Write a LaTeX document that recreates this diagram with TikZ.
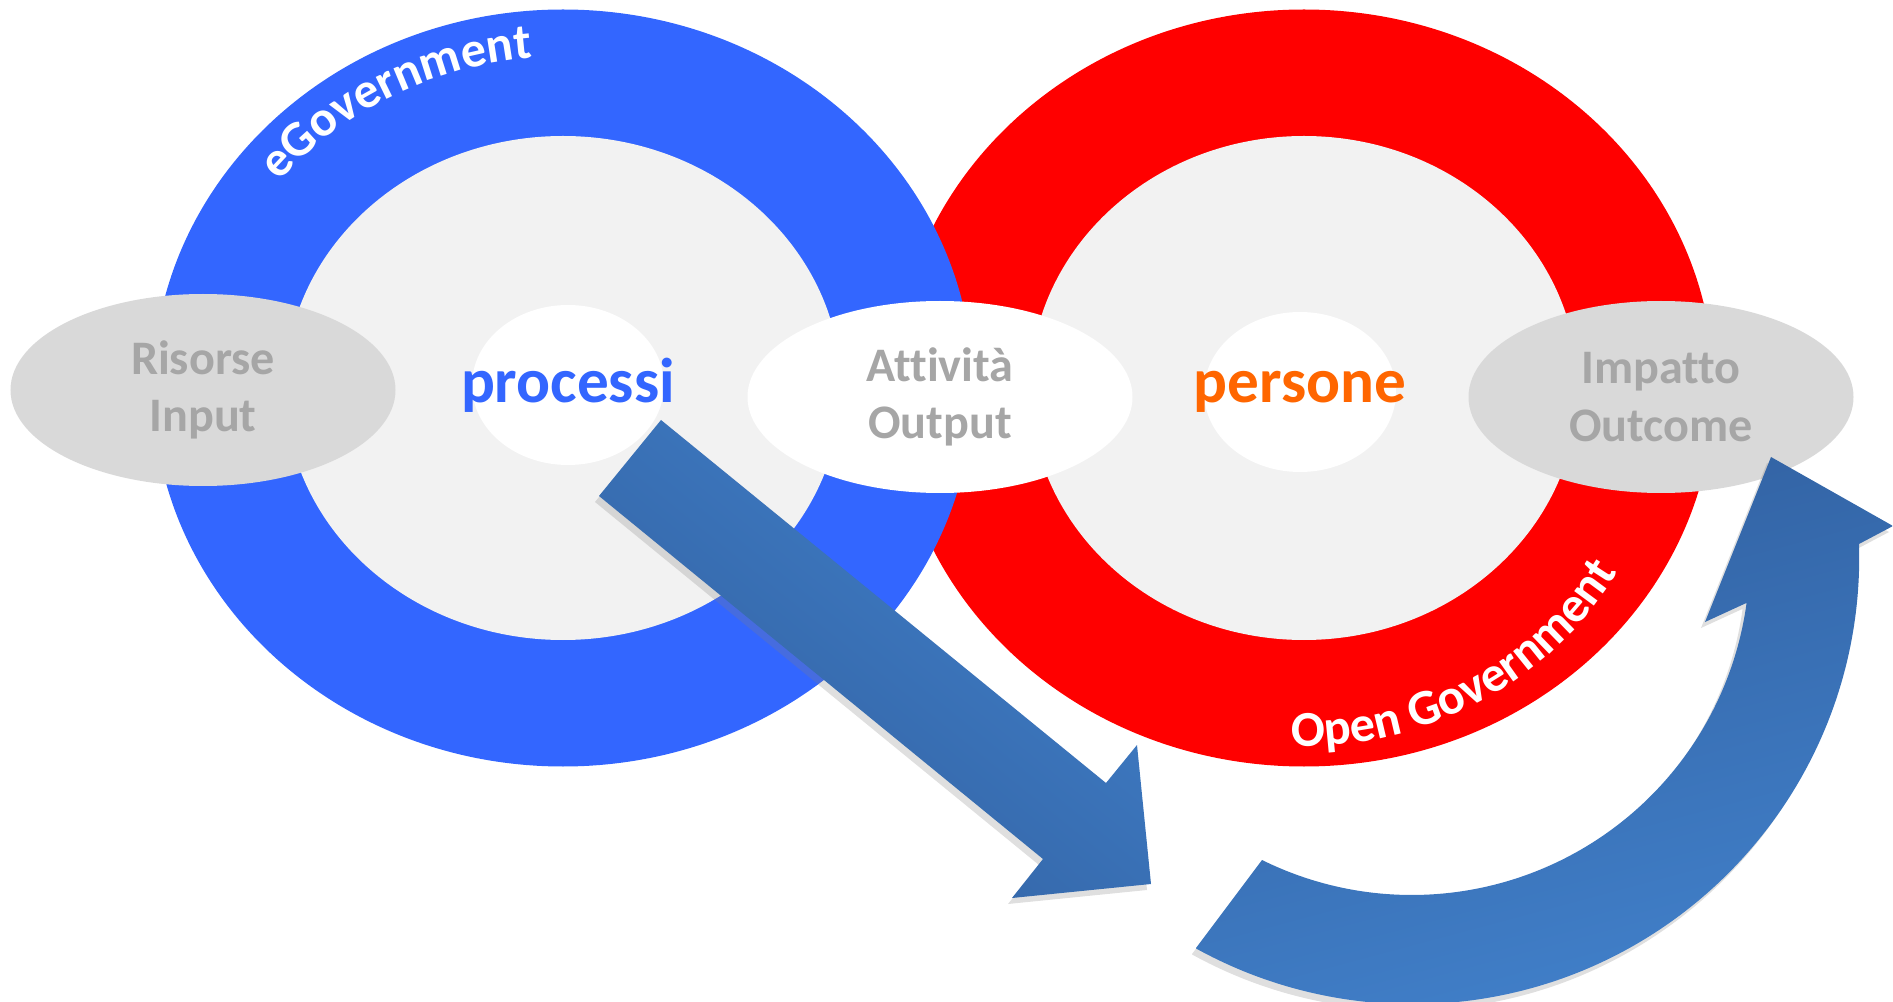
\documentclass[tikz,border=0pt]{standalone}
\usepackage{fontspec}
\setmainfont{Carlito}[Ligatures=NoCommon]
\usetikzlibrary{shapes.geometric,decorations.text,shadows}

\definecolor{egovblue}{RGB}{51,102,255}
\definecolor{opengovred}{RGB}{255,0,0}
\definecolor{ringfill}{RGB}{242,242,242}
\definecolor{stagegrey}{RGB}{217,217,217}
\definecolor{labelgrey}{RGB}{166,166,166}
\definecolor{peopleorange}{RGB}{255,102,0}
\definecolor{arrowlight}{RGB}{65,128,202}
\definecolor{arrowdark}{RGB}{49,96,160}

\tikzset{
  stage/.style={ellipse, minimum width=3.85cm, minimum height=1.92cm, inner sep=0pt,
    align=center, text=labelgrey, font=\fontsize{13.7}{16.3}\selectfont\bfseries},
  core/.style={ellipse, fill=white, minimum width=1.92cm, minimum height=1.6cm, inner sep=0pt},
  corefont/.style={font=\fontsize{18}{20}\selectfont\bfseries},
  blockarrow/.style={drop shadow={opacity=0.25, shadow xshift=-0.04cm, shadow yshift=-0.06cm}},
}

\begin{document}
\begin{tikzpicture}
    \useasboundingbox (0,0) rectangle (18.93,10.01);

    % Rings (red first, the blue one lies over it)
    \fill[opengovred] (13.04,6.13) ellipse [x radius=4.10, y radius=3.785];
    \fill[ringfill] (13.04,6.13) ellipse [x radius=2.74, y radius=2.52];
    \fill[egovblue] (5.63,6.13) ellipse [x radius=4.10, y radius=3.785];
    \fill[ringfill] (5.63,6.13) ellipse [x radius=2.78, y radius=2.52];

    % Ring labels
    \path[decorate, decoration={text along path, text align=left,
        text={|\fontsize{14.3}{16}\selectfont\bfseries\color{white}|eGovernment}}]
      (5.63,6.13) ++(141.5:3.62 and 3.31)
      arc [start angle=141.5, end angle=60, x radius=3.62, y radius=3.31];
    \path[decorate, decoration={text along path, text align=left,
        text={|\fontsize{14.3}{16}\selectfont\bfseries\color{white}|Open Government}}]
      (13.04,6.13) ++(268:3.66 and 3.58)
      arc [start angle=268, end angle=345, x radius=3.66, y radius=3.58];

    % Cores
    \node[core, label={[corefont, text=egovblue]center:processi}] (processi) at (5.68,6.16) {};
    \node[core, label={[corefont, text=peopleorange]center:persone}] (persone) at (13.00,6.09) {};

    % Stages
    \node[stage, fill=stagegrey] (risorse) at (2.03,6.11) {Risorse\\Input};
    \node[stage, fill=white] (attivita) at (9.40,6.04) {Attività\\Output};
    \node[stage, fill=stagegrey] (impatto) at (16.61,6.04) {Impatto\\Outcome};

    % Straight arrow
    \path[blockarrow, top color=arrowlight, bottom color=arrowdark, shading angle=-39]
      (6.61,5.81) -- (11.06,2.18) -- (11.37,2.56) -- (11.51,1.17)
      -- (10.12,1.03) -- (10.43,1.42) -- (5.99,5.05) -- cycle;

    % Curved arrow (arcs round a common centre at (14.12,4.44))
    \path[blockarrow, top color=arrowdark, bottom color=arrowlight, shading angle=15]
      (11.96,0.53) -- (12.62,1.41)
      arc [start angle=243.7, end angle=352.2, radius=3.38]
      -- (17.05,3.79) -- (17.71,5.44) -- (18.93,4.75) -- (18.59,4.57)
      arc [start angle=1.7, end angle=-118.9, radius=4.47]
      -- cycle;
\end{tikzpicture}
\end{document}
